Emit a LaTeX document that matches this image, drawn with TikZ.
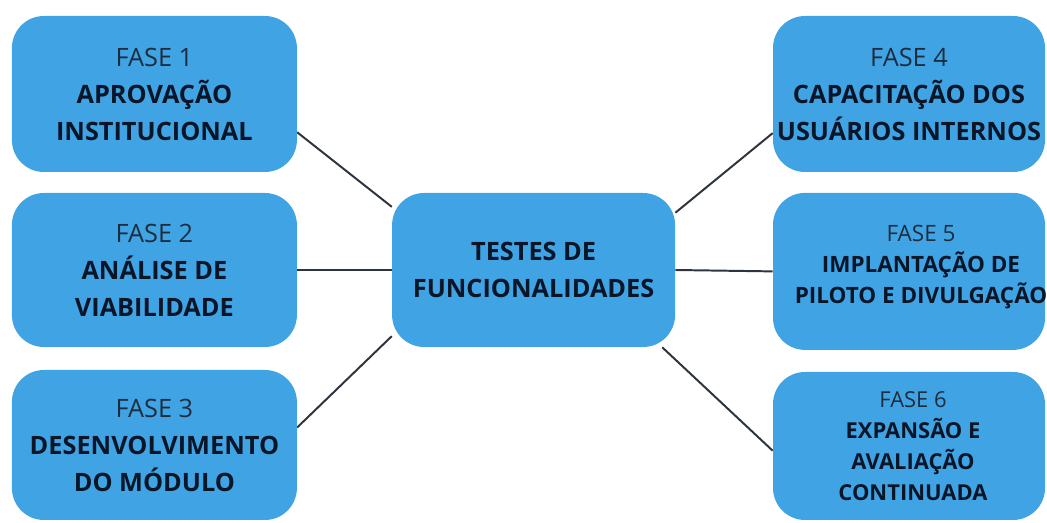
\documentclass[tikz,border=0pt]{standalone}
\usepackage{fontspec}
\setmainfont{Open Sans}
\usetikzlibrary{backgrounds}

\definecolor{boxblue}{RGB}{64,164,228}
\definecolor{inkblue}{RGB}{10,22,40}
\definecolor{fasegray}{RGB}{30,45,62}
\definecolor{linkgray}{RGB}{45,52,62}

\begin{document}
\begin{tikzpicture}[
  fasebox/.style={fill=boxblue, rounded corners=0.8cm, align=center, text=inkblue,
    font=\fontsize{18}{26.3}\selectfont\bfseries, inner sep=0pt},
  smalltext/.style={align=center, text=inkblue, inner sep=0pt,
    font=\fontsize{#1}{22}\selectfont\bfseries},
  link/.style={draw=linkgray, line width=1.4pt}
]
% Set the page size
\useasboundingbox (0, 0) rectangle (26.175, 13.075);

% Left column
\node[fasebox, minimum width=7.125cm, minimum height=3.9cm] (f1) at (3.86, 10.725)
  {{\mdseries\color{fasegray}FASE 1}\\APROVAÇÃO\\INSTITUCIONAL};
\node[fasebox, minimum width=7.125cm, minimum height=3.85cm] (f2) at (3.86, 6.325)
  {{\mdseries\color{fasegray}FASE 2}\\ANÁLISE DE\\VIABILIDADE};
\node[fasebox, minimum width=7.125cm, minimum height=3.75cm] (f3) at (3.86, 1.95)
  {{\mdseries\color{fasegray}FASE 3}\\DESENVOLVIMENTO\\DO MÓDULO};

% Center
\node[fasebox, minimum width=7.075cm, minimum height=3.85cm] (tests) at (13.34, 6.325)
  {TESTES DE\\FUNCIONALIDADES};

% Right column
\node[fasebox, minimum width=6.8cm, minimum height=3.9cm] (f4) at (22.725, 10.725)
  {{\mdseries\color{fasegray}FASE 4}\\CAPACITAÇÃO DOS\\USUÁRIOS INTERNOS};
\node[fasebox, minimum width=6.8cm, minimum height=3.925cm] (f5) at (22.725, 6.29) {};
\node[smalltext=16] (f5text) at ([xshift=0.3cm, yshift=0.1cm]f5.center)
  {{\mdseries\color{fasegray}FASE 5}\\IMPLANTAÇÃO DE\\PILOTO E DIVULGAÇÃO};
\node[fasebox, minimum width=6.8cm, minimum height=3.7cm] (f6) at (22.725, 1.925) {};
\node[smalltext=15.6] (f6text) at ([xshift=0.1cm]f6.center)
  {{\mdseries\color{fasegray}FASE 6}\\EXPANSÃO E\\AVALIAÇÃO\\CONTINUADA};

% Connect the phases to the center
\begin{scope}[on background layer]
\draw[link] (f1.-15) -- (tests.156);
\draw[link] (f2.east) -- (tests.west);
\draw[link] (f3.7) -- (tests.205);
\draw[link] (f4.196) -- (tests.22);
\draw[link] (f5.west) -- (tests.east);
\draw[link] (f6.182) -- (tests.-31);
\end{scope}
\end{tikzpicture}
\end{document}
